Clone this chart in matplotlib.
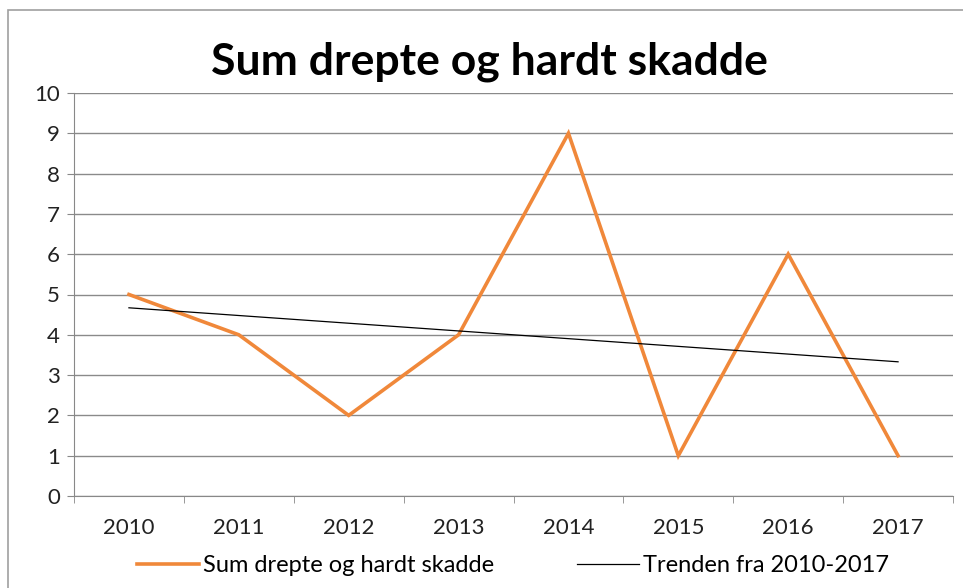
import matplotlib
matplotlib.use("Agg")
import matplotlib.pyplot as plt
from matplotlib.patches import Rectangle

years = ["2010", "2011", "2012", "2013", "2014", "2015", "2016", "2017"]
values = [5, 4, 2, 4, 9, 1, 6, 1]
trend_start_end = [4.67, 3.33]
title = "Sum drepte og hardt skadde"
series_label = "Sum drepte og hardt skadde"
trend_label = "Trenden fra 2010-2017"

plt.rcParams['font.family'] = ['Lato', 'DejaVu Sans']

fig = plt.figure(figsize=(9.63, 5.88), dpi=100)
ax = fig.add_axes([74/963, 1-496/588, (953-74)/963, (496-93)/588])

x = list(range(len(years)))
ax.plot(x, values, color="#F0883A", lw=2.6, label=series_label, solid_joinstyle="miter", zorder=3)
ax.plot([x[0], x[-1]], trend_start_end, color="black", lw=0.9, label=trend_label, zorder=4)

ax.set_xlim(-0.5, len(years) - 0.5)
ax.set_ylim(0, 10)
ax.set_yticks(range(0, 11))
ax.set_xticks(x)
ax.set_xticklabels(years)
ax.set_xticks([i - 0.5 for i in range(len(years) + 1)], minor=True)
ax.tick_params(axis="x", which="major", length=0, pad=16, labelsize=16, colors="#222222")
ax.tick_params(axis="x", which="minor", length=5, color="#888888", direction="out")
ax.tick_params(axis="y", length=5, color="#888888", labelsize=16, colors="#222222", pad=5)
ax.grid(axis="y", color="#8a8a8a", lw=1.0)
for s in ["top", "right"]:
    ax.spines[s].set_visible(False)
ax.spines["left"].set_color("#888888")
ax.spines["bottom"].set_color("#888888")

fig.text(0.508, 1 - 62/588, title, ha="center", va="center", fontsize=32, fontweight="bold")

leg = fig.legend(loc="center", bbox_to_anchor=(0.533, 1 - 566/588), ncol=2, frameon=False,
                 fontsize=17, handlelength=2.6, handletextpad=0.2, columnspacing=3.5)

fig.patches.append(Rectangle((8/963, -0.01), 1.0, 1 - 10/588 + 0.01, transform=fig.transFigure,
                             fill=False, edgecolor="#a0a0a0", lw=1.2))

fig.savefig("out.png", dpi=100)
